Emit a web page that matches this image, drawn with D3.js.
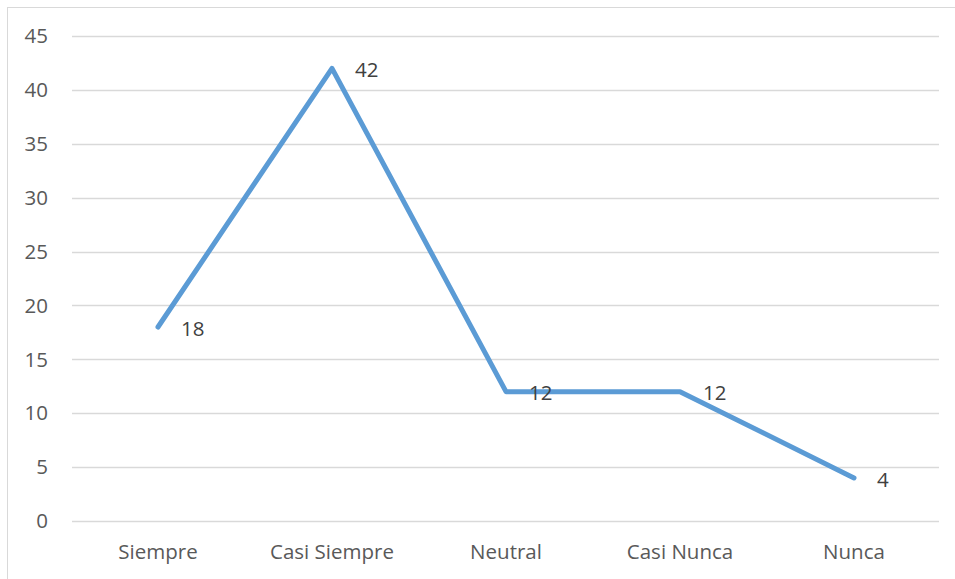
<!DOCTYPE html>
<html><head><meta charset="utf-8">
<script src="https://cdn.jsdelivr.net/npm/d3@7"></script>
<style>body{margin:0;background:#fff}svg{display:block}</style>
</head><body><svg id="c" width="955" height="579"></svg>
<script>
const categories = ["Siempre","Casi Siempre","Neutral","Casi Nunca","Nunca"];
const values = [18,42,12,12,4];
const yTicks = [0,5,10,15,20,25,30,35,40,45];

const svg = d3.select("#c");
const font = "'Open Sans', Lato, sans-serif";
const fs = 20.5;
svg.append("rect").attr("x",7.5).attr("y",7.5).attr("width",960).attr("height",590)
  .attr("fill","none").attr("stroke","#d9d9d9").attr("stroke-width",1);

const x = d3.scaleBand().domain(categories).range([71,941]);
const y = d3.scaleLinear().domain([0,45]).range([521,36]);

const g = svg.append("g");
g.selectAll("line.grid").data(yTicks).join("line")
  .attr("x1",72).attr("x2",939)
  .attr("y1",d=>Math.round(y(d))+0.5).attr("y2",d=>Math.round(y(d))+0.5)
  .attr("stroke","#d9d9d9").attr("stroke-width",1.3);

g.selectAll("text.yt").data(yTicks).join("text")
  .attr("x",48).attr("y",d=>y(d)).attr("dy","0.35em")
  .attr("text-anchor","end").attr("font-family",font).attr("font-size",fs)
  .attr("fill","#595959").text(d=>d);

g.selectAll("text.xt").data(categories).join("text")
  .attr("x",d=>x(d)+x.bandwidth()/2).attr("y",552).attr("dy","0.35em")
  .attr("text-anchor","middle").attr("font-family",font).attr("font-size",fs)
  .attr("fill","#595959").text(d=>d);

const line = d3.line().x((d,i)=>x(categories[i])+x.bandwidth()/2).y(d=>y(d));
g.append("path").datum(values).attr("d",line).attr("fill","none")
  .attr("stroke","#5B9BD5").attr("stroke-width",5)
  .attr("stroke-linecap","round").attr("stroke-linejoin","round");

g.selectAll("text.lab").data(values).join("text")
  .attr("x",(d,i)=>x(categories[i])+x.bandwidth()/2+23)
  .attr("y",d=>y(d)+1.5).attr("dy","0.35em")
  .attr("font-family",font).attr("font-size",fs)
  .attr("fill","#404040").text(d=>d);
</script></body></html>
